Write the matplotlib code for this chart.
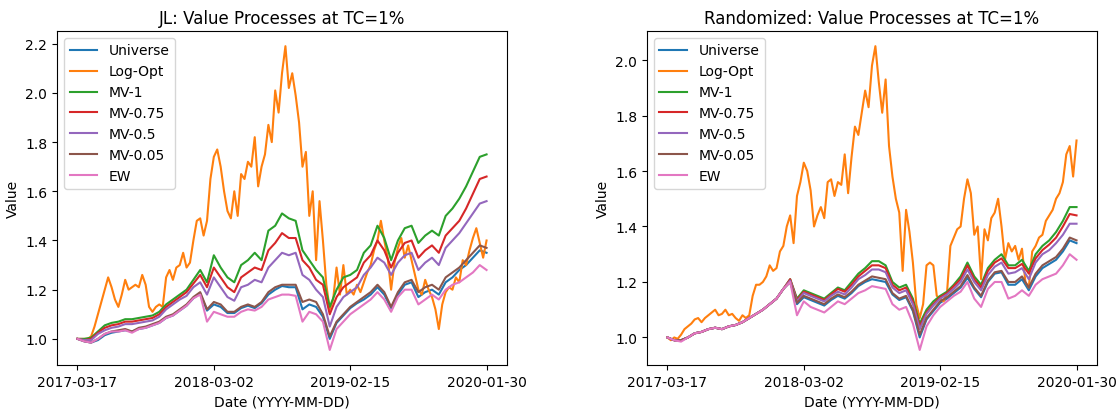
import numpy as np
import matplotlib
matplotlib.use("Agg")
import matplotlib.pyplot as plt

# series names (legend order)
names = ["Universe", "Log-Opt", "MV-1", "MV-0.75", "MV-0.5", "MV-0.05", "EW"]

# x tick labels (first, every 20th sample, last)
tick_labels = ["2017-03-17", "2018-03-02", "2019-02-15", "2020-01-30"]

# ---- JL panel ----
jl_universe = [1.00, 0.99, 0.985, 0.995, 1.015, 1.025, 1.03, 1.035, 1.03, 1.04,
               1.045, 1.055, 1.065, 1.085, 1.095, 1.115, 1.135, 1.165, 1.185, 1.115,
               1.14, 1.13, 1.105, 1.105, 1.125, 1.135, 1.125, 1.145, 1.18, 1.20,
               1.215, 1.21, 1.21, 1.12, 1.14, 1.13, 1.09, 1.00, 1.065, 1.095,
               1.125, 1.145, 1.16, 1.18, 1.21, 1.18, 1.125, 1.18, 1.22, 1.23,
               1.17, 1.19, 1.20, 1.18, 1.23, 1.25, 1.28, 1.30, 1.33, 1.36, 1.35]
# Log-Opt is sampled twice as often (it moves much more)
jl_logopt = [1.00, 1.00, 1.00, 1.00, 1.01, 1.05, 1.10, 1.15, 1.20, 1.25,
             1.21, 1.16, 1.13, 1.18, 1.24, 1.20, 1.21, 1.22, 1.21, 1.26,
             1.22, 1.13, 1.11, 1.13, 1.14, 1.13, 1.25, 1.28, 1.24, 1.29,
             1.30, 1.35, 1.29, 1.31, 1.40, 1.48, 1.49, 1.42, 1.48, 1.65,
             1.74, 1.77, 1.70, 1.60, 1.52, 1.49, 1.60, 1.50, 1.67, 1.65,
             1.72, 1.70, 1.82, 1.62, 1.70, 1.75, 1.87, 1.80, 2.01, 1.92,
             2.08, 2.19, 2.02, 2.08, 1.99, 1.88, 1.70, 1.76, 1.50, 1.60,
             1.32, 1.56, 1.40, 1.22, 1.12, 1.16, 1.29, 1.18, 1.30, 1.18,
             1.20, 1.18, 1.22, 1.19, 1.23, 1.27, 1.30, 1.36, 1.40, 1.48,
             1.40, 1.33, 1.20, 1.31, 1.37, 1.41, 1.33, 1.38, 1.32, 1.26,
             1.20, 1.18, 1.24, 1.20, 1.17, 1.12, 1.04, 1.14, 1.19, 1.21,
             1.20, 1.25, 1.23, 1.32, 1.30, 1.36, 1.41, 1.45, 1.39, 1.33, 1.40]
jl_mv1 = [1.00, 1.00, 1.005, 1.03, 1.055, 1.065, 1.07, 1.08, 1.08, 1.085,
          1.09, 1.095, 1.11, 1.14, 1.16, 1.18, 1.20, 1.24, 1.28, 1.23,
          1.34, 1.29, 1.25, 1.23, 1.30, 1.32, 1.35, 1.32, 1.44, 1.46,
          1.51, 1.49, 1.48, 1.36, 1.32, 1.28, 1.25, 1.13, 1.20, 1.25,
          1.26, 1.28, 1.35, 1.38, 1.46, 1.41, 1.32, 1.40, 1.45, 1.46,
          1.39, 1.42, 1.44, 1.42, 1.50, 1.53, 1.57, 1.62, 1.68, 1.74, 1.75]
jl_mv075 = [1.00, 0.995, 1.00, 1.025, 1.045, 1.055, 1.06, 1.07, 1.07, 1.075,
            1.08, 1.085, 1.10, 1.13, 1.15, 1.17, 1.19, 1.225, 1.26, 1.21,
            1.29, 1.25, 1.21, 1.19, 1.25, 1.27, 1.29, 1.28, 1.36, 1.39,
            1.43, 1.41, 1.41, 1.32, 1.29, 1.24, 1.22, 1.10, 1.17, 1.21,
            1.23, 1.25, 1.31, 1.34, 1.40, 1.36, 1.29, 1.35, 1.39, 1.40,
            1.33, 1.36, 1.38, 1.35, 1.42, 1.45, 1.48, 1.53, 1.59, 1.65, 1.66]
jl_mv05 = [1.00, 0.995, 0.995, 1.02, 1.035, 1.045, 1.05, 1.06, 1.06, 1.065,
           1.07, 1.075, 1.09, 1.12, 1.14, 1.16, 1.175, 1.21, 1.23, 1.18,
           1.25, 1.21, 1.17, 1.155, 1.21, 1.22, 1.24, 1.23, 1.29, 1.32,
           1.35, 1.34, 1.35, 1.26, 1.24, 1.20, 1.17, 1.05, 1.13, 1.17,
           1.19, 1.21, 1.26, 1.29, 1.33, 1.31, 1.26, 1.31, 1.34, 1.35,
           1.28, 1.31, 1.33, 1.30, 1.37, 1.40, 1.43, 1.47, 1.51, 1.55, 1.56]
jl_mv005 = [1.00, 0.99, 0.985, 1.00, 1.02, 1.03, 1.035, 1.04, 1.03, 1.045,
            1.05, 1.06, 1.07, 1.09, 1.10, 1.12, 1.14, 1.17, 1.19, 1.12,
            1.15, 1.14, 1.11, 1.11, 1.13, 1.14, 1.13, 1.15, 1.19, 1.21,
            1.22, 1.22, 1.22, 1.15, 1.16, 1.15, 1.10, 1.01, 1.07, 1.10,
            1.13, 1.15, 1.17, 1.19, 1.22, 1.19, 1.13, 1.19, 1.23, 1.24,
            1.19, 1.21, 1.22, 1.20, 1.25, 1.27, 1.29, 1.32, 1.35, 1.38, 1.37]
jl_ew = [1.00, 0.99, 0.985, 1.00, 1.02, 1.03, 1.03, 1.035, 1.025, 1.04,
         1.045, 1.055, 1.065, 1.085, 1.095, 1.115, 1.135, 1.165, 1.18, 1.07,
         1.11, 1.10, 1.09, 1.09, 1.11, 1.12, 1.115, 1.13, 1.16, 1.17,
         1.18, 1.18, 1.175, 1.07, 1.11, 1.10, 1.07, 0.955, 1.04, 1.07,
         1.10, 1.12, 1.14, 1.16, 1.19, 1.16, 1.11, 1.17, 1.20, 1.20,
         1.14, 1.16, 1.18, 1.16, 1.20, 1.22, 1.23, 1.25, 1.27, 1.30, 1.28]

# ---- Randomized panel ----
rd_universe = [1.00, 0.99, 0.99, 1.00, 1.015, 1.02, 1.03, 1.035, 1.03, 1.04,
               1.045, 1.055, 1.07, 1.085, 1.10, 1.12, 1.14, 1.175, 1.20, 1.12,
               1.145, 1.135, 1.125, 1.115, 1.135, 1.15, 1.14, 1.16, 1.185, 1.20,
               1.21, 1.205, 1.20, 1.155, 1.135, 1.145, 1.095, 1.00, 1.065, 1.095,
               1.125, 1.14, 1.16, 1.18, 1.215, 1.175, 1.145, 1.20, 1.23, 1.235,
               1.19, 1.19, 1.21, 1.17, 1.22, 1.25, 1.265, 1.28, 1.31, 1.35, 1.34]
rd_logopt = [1.00, 0.99, 1.00, 0.995, 1.01, 1.03, 1.04, 1.05, 1.065, 1.07,
             1.055, 1.07, 1.08, 1.09, 1.10, 1.08, 1.085, 1.10, 1.08, 1.085,
             1.07, 1.06, 1.08, 1.07, 1.08, 1.15, 1.19, 1.19, 1.20, 1.22,
             1.26, 1.24, 1.25, 1.31, 1.33, 1.40, 1.44, 1.34, 1.51, 1.56,
             1.63, 1.60, 1.53, 1.40, 1.44, 1.47, 1.43, 1.56, 1.57, 1.51,
             1.56, 1.55, 1.66, 1.52, 1.65, 1.76, 1.73, 1.81, 1.89, 1.83,
             1.98, 2.05, 1.92, 1.81, 1.93, 1.69, 1.58, 1.50, 1.45, 1.24,
             1.46, 1.38, 1.27, 1.12, 1.07, 1.12, 1.26, 1.27, 1.26, 1.15,
             1.14, 1.13, 1.16, 1.33, 1.36, 1.39, 1.40, 1.50, 1.57, 1.52,
             1.37, 1.40, 1.21, 1.39, 1.35, 1.43, 1.45, 1.50, 1.40, 1.28,
             1.34, 1.31, 1.33, 1.28, 1.32, 1.20, 1.18, 1.31, 1.33, 1.36,
             1.37, 1.42, 1.44, 1.46, 1.50, 1.52, 1.56, 1.66, 1.69, 1.58, 1.71]
rd_mv1 = [1.00, 0.99, 0.99, 1.00, 1.015, 1.02, 1.03, 1.035, 1.03, 1.04,
          1.045, 1.055, 1.07, 1.085, 1.10, 1.12, 1.14, 1.175, 1.21, 1.14,
          1.17, 1.16, 1.15, 1.14, 1.16, 1.18, 1.17, 1.20, 1.23, 1.25,
          1.275, 1.275, 1.26, 1.20, 1.18, 1.19, 1.14, 1.05, 1.10, 1.13,
          1.15, 1.165, 1.19, 1.22, 1.27, 1.22, 1.19, 1.25, 1.28, 1.30,
          1.26, 1.26, 1.28, 1.24, 1.30, 1.33, 1.35, 1.38, 1.42, 1.47, 1.47]
rd_mv075 = [1.00, 0.99, 0.99, 1.00, 1.015, 1.02, 1.03, 1.035, 1.03, 1.04,
            1.045, 1.055, 1.07, 1.085, 1.10, 1.12, 1.14, 1.175, 1.21, 1.135,
            1.165, 1.155, 1.145, 1.135, 1.155, 1.175, 1.165, 1.19, 1.22, 1.24,
            1.26, 1.26, 1.25, 1.19, 1.17, 1.18, 1.13, 1.04, 1.09, 1.12,
            1.145, 1.16, 1.185, 1.21, 1.26, 1.21, 1.18, 1.24, 1.27, 1.285,
            1.25, 1.25, 1.265, 1.23, 1.285, 1.315, 1.335, 1.36, 1.40, 1.445, 1.44]
rd_mv05 = [1.00, 0.99, 0.99, 1.00, 1.015, 1.02, 1.03, 1.035, 1.03, 1.04,
           1.045, 1.055, 1.07, 1.085, 1.10, 1.12, 1.14, 1.175, 1.205, 1.13,
           1.16, 1.15, 1.14, 1.13, 1.15, 1.165, 1.155, 1.18, 1.21, 1.225,
           1.245, 1.245, 1.235, 1.18, 1.16, 1.17, 1.12, 1.03, 1.085, 1.115,
           1.14, 1.155, 1.175, 1.20, 1.245, 1.20, 1.17, 1.225, 1.255, 1.27,
           1.23, 1.235, 1.25, 1.21, 1.27, 1.30, 1.315, 1.34, 1.37, 1.41, 1.41]
rd_mv005 = [1.00, 0.99, 0.99, 1.00, 1.015, 1.02, 1.03, 1.035, 1.03, 1.04,
            1.045, 1.055, 1.07, 1.085, 1.10, 1.12, 1.14, 1.175, 1.20, 1.125,
            1.15, 1.14, 1.13, 1.12, 1.14, 1.155, 1.145, 1.165, 1.19, 1.205,
            1.22, 1.215, 1.21, 1.16, 1.14, 1.15, 1.10, 1.01, 1.07, 1.10,
            1.13, 1.145, 1.165, 1.185, 1.225, 1.18, 1.15, 1.205, 1.235, 1.24,
            1.20, 1.20, 1.22, 1.18, 1.23, 1.26, 1.275, 1.29, 1.32, 1.36, 1.35]
rd_ew = [1.00, 0.99, 0.985, 1.00, 1.015, 1.02, 1.03, 1.035, 1.03, 1.04,
         1.045, 1.055, 1.07, 1.085, 1.10, 1.12, 1.14, 1.175, 1.20, 1.08,
         1.13, 1.11, 1.10, 1.09, 1.11, 1.13, 1.12, 1.14, 1.16, 1.17,
         1.185, 1.18, 1.175, 1.12, 1.10, 1.11, 1.05, 0.955, 1.04, 1.08,
         1.11, 1.13, 1.15, 1.165, 1.20, 1.14, 1.11, 1.175, 1.20, 1.20,
         1.14, 1.15, 1.17, 1.15, 1.19, 1.21, 1.22, 1.23, 1.26, 1.30, 1.28]

panels = [
    ("JL: Value Processes at TC=1%",
     [jl_universe, jl_logopt, jl_mv1, jl_mv075, jl_mv05, jl_mv005, jl_ew]),
    ("Randomized: Value Processes at TC=1%",
     [rd_universe, rd_logopt, rd_mv1, rd_mv075, rd_mv05, rd_mv005, rd_ew]),
]

fig = plt.figure(figsize=(11.18, 4.10), dpi=100)
axes = [fig.add_axes([0.051, 0.107, 0.4025, 0.815]),
        fig.add_axes([0.5787, 0.107, 0.4025, 0.815])]

for ax, (title, series) in zip(axes, panels):
    n_last = len(series[0]) - 1
    for name, vals in zip(names, series):
        # every series spans the same date range, whatever its sampling
        x = np.linspace(0, n_last, len(vals))
        ax.plot(x, vals, label=name, linewidth=1.5)
    ax.set_xticks(np.arange(0, n_last + 1, 20))
    ax.set_xticklabels(tick_labels)
    ax.set_title(title)
    ax.set_xlabel("Date (YYYY-MM-DD)")
    ax.set_ylabel("Value")
    ax.legend(loc="upper left")

fig.savefig("out.png", dpi=100)
